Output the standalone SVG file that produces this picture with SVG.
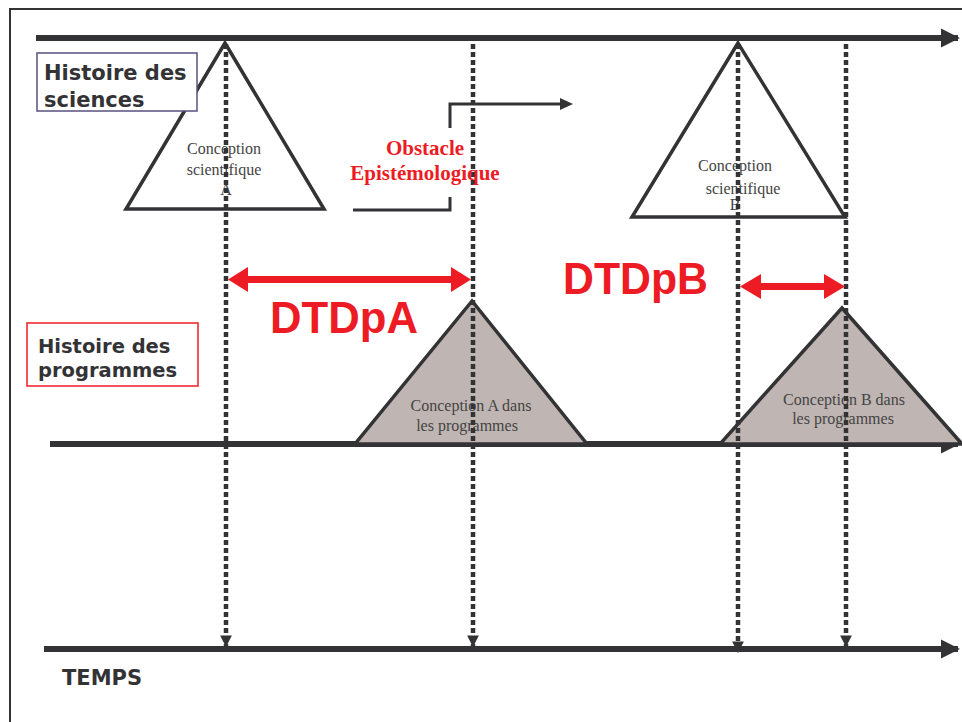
<svg xmlns="http://www.w3.org/2000/svg" width="962" height="722" viewBox="0 0 962 722">
<defs>
<style>
.axis{stroke:#333336;stroke-width:6;fill:none}
.dot{stroke:#333336;stroke-width:4.5;stroke-dasharray:5,3;fill:none}
.tri{stroke:#333336;stroke-width:3.5;fill:#fff;stroke-linejoin:miter}
.trip{stroke:#333336;stroke-width:3.5;fill:#bfb5b2}
.small{font-family:"Liberation Serif",serif;font-size:16px;fill:#444;text-anchor:middle}
.lab{font-family:"DejaVu Sans",sans-serif;font-weight:bold;fill:#333336}
.red{fill:#ed1c24}
.big{font-family:"Liberation Sans",sans-serif;font-weight:bold;font-size:44px;fill:#ed1c24}
.obs{font-family:"Liberation Serif",serif;font-weight:bold;font-size:21px;fill:#ed1c24;text-anchor:middle}
</style>
<marker id="ah" viewBox="0 0 10 10" refX="9" refY="5" markerWidth="3.2" markerHeight="3.2" orient="auto" markerUnits="strokeWidth">
<path d="M0,0 L10,5 L0,10 Z" fill="#333336"/>
</marker>
<marker id="dh" viewBox="0 0 10 10" refX="9" refY="5" markerWidth="2.6" markerHeight="2.6" orient="auto" markerUnits="strokeWidth">
<path d="M0,0 L10,5 L0,10 Z" fill="#333336"/>
</marker>
</defs>
<rect x="10" y="9" width="970" height="730" fill="none" stroke="#333336" stroke-width="2"/>

<g id="connectors">
<line class="axis" x1="36" y1="38" x2="958" y2="38" marker-end="url(#ah)"/>
<line class="axis" x1="50" y1="444" x2="958" y2="444" marker-end="url(#ah)"/>
<line class="axis" x1="44" y1="649" x2="958" y2="649" marker-end="url(#ah)"/>
</g>

<g id="triA">
<polygon class="tri" points="225,43 126,209 324,209"/>
<text class="small" x="224" y="154">Conception</text>
<text class="small" x="224" y="175">scientifique</text>
<text class="small" x="226" y="195">A</text>
</g>
<g id="triB">
<polygon class="tri" points="738,43 632,217 845,217"/>
<text class="small" x="735" y="171">Conception</text>
<text class="small" x="743" y="194">scientifique</text>
<text class="small" x="735" y="210">B</text>
</g>
<g id="progA">
<polygon class="trip" points="472,301 355,444 587,444"/>
<text class="small" x="471" y="411">Conception A dans</text>
<text class="small" x="467" y="431">les programmes</text>
</g>
<g id="progB">
<polygon class="trip" points="842,308 720,444 962,444"/>
<text class="small" x="844" y="405">Conception B dans</text>
<text class="small" x="843" y="424">les programmes</text>
</g>

<g id="vlines">
<line class="dot" x1="226" y1="44" x2="226" y2="646" marker-end="url(#dh)"/>
<line class="dot" x1="473" y1="44" x2="473" y2="646" marker-end="url(#dh)"/>
<line class="dot" x1="738" y1="44" x2="738" y2="652" marker-end="url(#dh)"/>
<line class="dot" x1="846" y1="44" x2="846" y2="646" marker-end="url(#dh)"/>
</g>

<g id="obstacle">
<polyline points="353,210 450,210 450,197" fill="none" stroke="#333336" stroke-width="3"/>
<polyline points="450,128 450,104 562,104" fill="none" stroke="#333336" stroke-width="3"/>
<path d="M560,98 L573,104 L560,110 Z" fill="#333336"/>
<text class="obs" x="425" y="155">Obstacle</text>
<text class="obs" x="425" y="180">Epistémologique</text>
</g>

<g id="dtdpA">
<rect class="red" x="245" y="276" width="210" height="7"/>
<path class="red" d="M228,279.5 L248,267 L248,292 Z"/>
<path class="red" d="M471,279.5 L451,267 L451,292 Z"/>
<text class="big" x="270" y="333" textLength="148" lengthAdjust="spacingAndGlyphs">DTDpA</text>
</g>
<g id="dtdpB">
<rect class="red" x="756" y="283" width="74" height="7"/>
<path class="red" d="M740,286.5 L761,274 L761,299 Z"/>
<path class="red" d="M845,286.5 L824,274 L824,299 Z"/>
<text class="big" x="563" y="294" textLength="145" lengthAdjust="spacingAndGlyphs">DTDpB</text>
</g>

<g id="histSciences">
<rect x="37" y="53" width="160" height="58" fill="#fff" stroke="#5a5080" stroke-width="1.5"/>
<text class="lab" x="44" y="80" font-size="21">Histoire des</text>
<text class="lab" x="44" y="107" font-size="21">sciences</text>
</g>
<g id="histProg">
<rect x="27" y="323" width="171" height="63" fill="#fff" stroke="#ed1c24" stroke-width="1.5"/>
<text class="lab" x="38" y="353" font-size="19.5">Histoire des</text>
<text class="lab" x="38" y="377" font-size="19.5">programmes</text>
</g>
<g id="temps">
<text class="lab" x="62" y="685" font-size="21">TEMPS</text>
</g>
</svg>
